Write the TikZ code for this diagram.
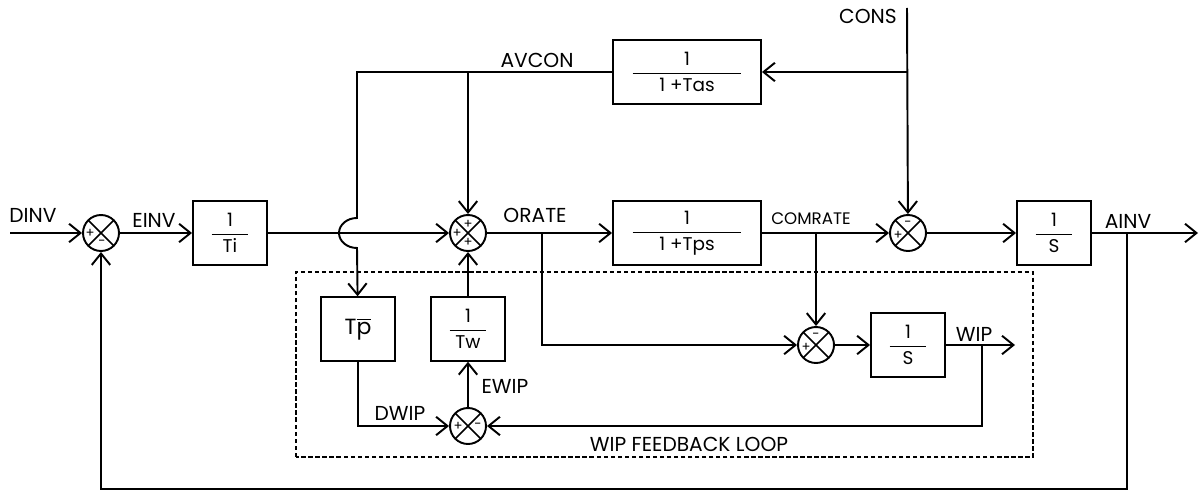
\documentclass[tikz,border=0pt]{standalone}
\usepackage{amsmath}
\usepackage{fontspec}
\setmainfont{Poppins}
\usetikzlibrary{arrows.meta}

\newcommand{\blkfrac}[3]{$\genfrac{}{}{0.7pt}{0}{\hbox to #1{\hss#2\hss}}{\hbox{#3}}$}

\begin{document}
\begin{tikzpicture}[x=0.02cm, y=0.02cm, line width=1.1pt,
    font=\fontsize{11.5}{13}\selectfont,
    >={Straight Barb[length=6.5pt,width=10.5pt]},
    blk/.style={draw, minimum width=1.48cm, minimum height=1.27cm, inner sep=1pt,
        font=\fontsize{10.5}{12}\selectfont},
    blkw/.style={blk, minimum width=2.96cm},
    summer/.style={draw, circle, minimum size=0.72cm, inner sep=0pt,
        path picture={\draw[line width=0.9pt]
            (path picture bounding box.north west) -- (path picture bounding box.south east)
            (path picture bounding box.south west) -- (path picture bounding box.north east);}},
    sgn/.style={font=\fontsize{7.5}{8}\selectfont, inner sep=0pt}]

    \useasboundingbox (0,0) rectangle (1203,491);

    % main row
    \node[summer] (s1) at (101,258) {};
    \node[blk] (ti) at (230,258) {\blkfrac{21pt}{1}{Ti}};
    \node[summer] (s2) at (468,258) {};
    \node[blkw] (tps) at (687,258) {\blkfrac{62pt}{1}{1 +Tps}};
    \node[summer] (s3) at (908,258) {};
    \node[blk] (ia) at (1054,258) {\blkfrac{21pt}{1}{S}};

    % top row
    \node[blkw] (tas) at (687,419) {\blkfrac{62pt}{1}{1 +Tas}};

    % wip loop
    \node[blk, font=\fontsize{12.5}{14}\selectfont] (tp) at (358,162) {T$\overline{\hbox{p}}$};
    \node[blk] (tw) at (468,162) {\blkfrac{21pt}{1}{Tw}};
    \node[summer] (s5) at (468,65) {};
    \node[summer] (s4) at (816,146) {};
    \node[blk] (iw) at (908,146) {\blkfrac{21pt}{1}{S}};

    \coordinate (dinv) at (10,258);
    \coordinate (ainv) at (1198,258);
    \coordinate (fbt) at (1127,258);
    \coordinate (fbb) at (1127,2);
    \coordinate (cons) at (907,483);
    \coordinate (av) at (357,419);
    \coordinate (jmp) at (357,258);
    \coordinate (ob) at (542,258);
    \coordinate (wipout) at (1015,146);
    \coordinate (wb) at (982,146);

    % connectors
    \draw[->] (dinv) -- (s1);
    \draw[->] (s1) -- (ti);
    \draw[->] (ti) -- (s2);
    \draw[->] (s2) -- (tps);
    \draw[->] (tps) -- (s3);
    \draw[->] (s3) -- (ia);
    \draw[->] (ia) -- (ainv);
    \draw[->] (fbt) -- (fbb) -| (s1);

    \draw[->] (tas) -- (av) -- ([shift={(0,15)}]jmp)
        arc[start angle=90, end angle=270, x radius=18, y radius=15] -- (tp);
    \draw[->] (s2 |- av) -- (s2);
    \draw[->] (cons) -- (s3);
    \draw[->] (cons |- tas) -- (tas);

    \draw[->] (ob) |- (s4);
    \draw[->] (s4 |- s3) -- (s4);
    \draw[->] (s4) -- (iw);
    \draw[->] (iw) -- (wipout);
    \draw[->] (wb) |- (s5);
    \draw[->] (tp) |- (s5);
    \draw[->] (s5) -- (tw);
    \draw[->] (tw) -- (s2);

    \draw[line width=0.6pt, dash pattern=on 2.5pt off 1.5pt] (296,34) rectangle (1033,219);

    % signals
    \node (l_dinv) at (33,276) {DINV};
    \node (l_einv) at (154,271) {EINV};
    \node (l_orate) at (535,276) {ORATE};
    \node[font=\fontsize{9.5}{11}\selectfont] (l_comrate) at (811,272) {COMRATE};
    \node (l_ainv) at (1128,270) {AINV};
    \node (l_avcon) at (537,431) {AVCON};
    \node (l_cons) at (868,475) {CONS};
    \node (l_dwip) at (400,78) {DWIP};
    \node (l_ewip) at (505,105) {EWIP};
    \node (l_wip) at (974,157) {WIP};
    \node (l_loop) at (689,47) {WIP FEEDBACK LOOP};

    % signs
    \node[sgn] at ([shift={(-11,0)}]s1.center) {+};
    \node[sgn] at ([shift={(1,-10)}]s1.center) {-};
    \node[sgn] at ([shift={(-11,0)}]s2.center) {+};
    \node[sgn] at ([shift={(0,9)}]s2.center) {+};
    \node[sgn] at ([shift={(0,-9)}]s2.center) {+};
    \node[sgn] at ([shift={(-10,-2)}]s3.center) {+};
    \node[sgn] at ([shift={(0,9)}]s3.center) {-};
    \node[sgn] at ([shift={(-10,-2)}]s4.center) {+};
    \node[sgn] at ([shift={(0,9)}]s4.center) {-};
    \node[sgn] at ([shift={(-10,0)}]s5.center) {+};
    \node[sgn] at ([shift={(10,0)}]s5.center) {-};
\end{tikzpicture}
\end{document}
